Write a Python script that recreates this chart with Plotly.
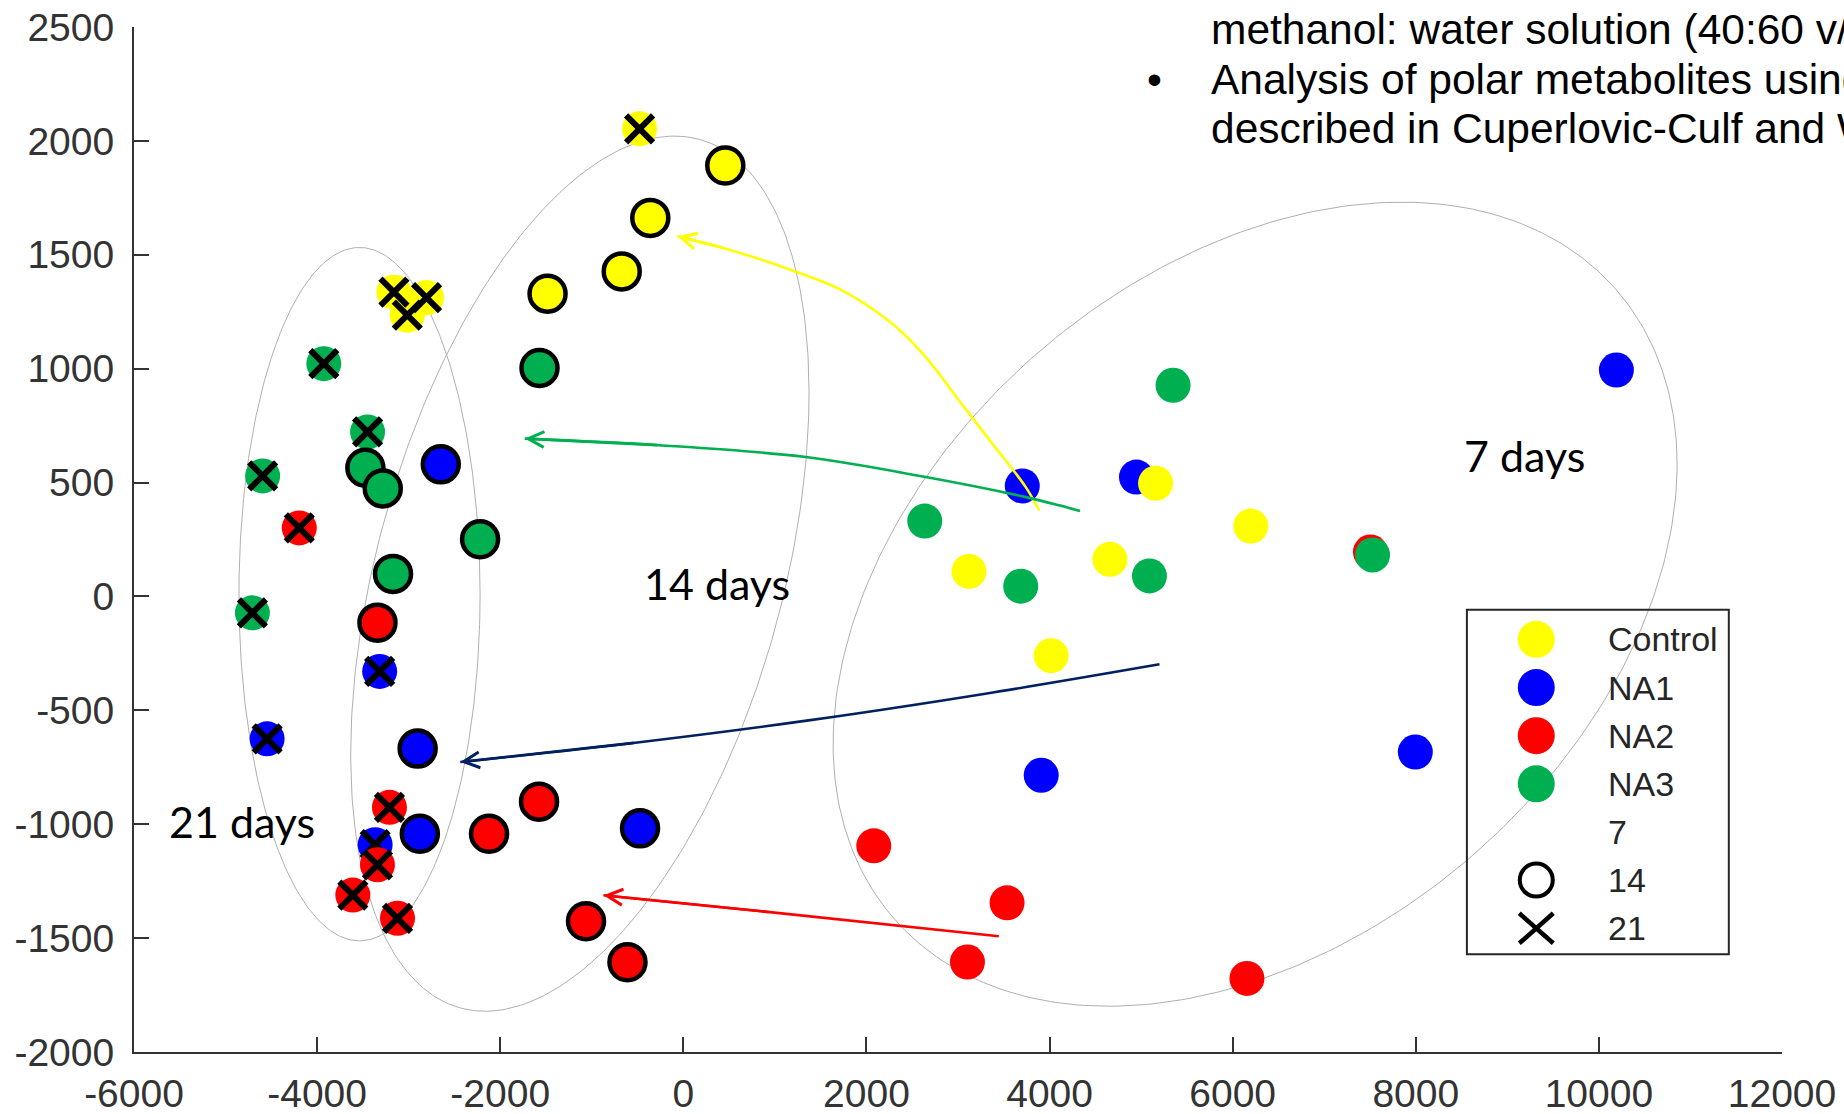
import numpy as np
import plotly.graph_objects as go

# ---------------- data ----------------
group_names = ["NA1", "NA2", "Control", "NA3"]          # drawing order
group_colors = {"Control": "#FFFF00", "NA1": "#0000FF", "NA2": "#FF0000", "NA3": "#00B050"}

control_d7_x = [5158, 6198, 4659, 3120, 4017]
control_d7_y = [497, 309, 163, 110, -260]
control_d14_x = [458, -361, -673, -1483]
control_d14_y = [1892, 1662, 1427, 1329]
control_d21_x = [-478, -3161, -2805, -3015]
control_d21_y = [2053, 1336, 1312, 1235]

na1_d7_x = [10191, 3702, 4949, 7995, 3909]
na1_d7_y = [994, 485, 524, -683, -785]
na1_d14_x = [-2649, -2902, -2878, -473]
na1_d14_y = [580, -668, -1042, -1018]
na1_d21_x = [-3317, -4546, -3366]
na1_d21_y = [-329, -625, -1090]

na2_d7_x = [7505, 2080, 3536, 3103, 6156]
na2_d7_y = [195, -1095, -1345, -1605, -1677]
na2_d14_x = [-3341, -1576, -2122, -1063, -610]
na2_d14_y = [-115, -901, -1042, -1426, -1606]
na2_d21_x = [-4195, -3210, -3341, -3610, -3122]
na2_d21_y = [301, -926, -1178, -1311, -1413]

na3_d7_x = [5349, 2637, 7528, 3685, 5091]
na3_d7_y = [927, 331, 182, 45, 90]
na3_d14_x = [-1571, -3473, -3283, -2220, -3171]
na3_d14_y = [1003, 565, 474, 251, 99]
na3_d21_x = [-3927, -3449, -4595, -4707]
na3_d21_y = [1022, 722, 529, -72]

data = {
    "Control": {7: (control_d7_x, control_d7_y), 14: (control_d14_x, control_d14_y), 21: (control_d21_x, control_d21_y)},
    "NA1": {7: (na1_d7_x, na1_d7_y), 14: (na1_d14_x, na1_d14_y), 21: (na1_d21_x, na1_d21_y)},
    "NA2": {7: (na2_d7_x, na2_d7_y), 14: (na2_d14_x, na2_d14_y), 21: (na2_d21_x, na2_d21_y)},
    "NA3": {7: (na3_d7_x, na3_d7_y), 14: (na3_d14_x, na3_d14_y), 21: (na3_d21_x, na3_d21_y)},
}

# grouping ellipses: centre, x half-extent, y half-extent, phase (tilt)
ellipse_cx = [-3537, -1130, 6245]
ellipse_cy = [10, 100, -34]
ellipse_w = [1317, 2503, 4609]
ellipse_h = [1522, 1921, 1765]
ellipse_phase_deg = [90, 65.6, 69.7]

# arrows (tail ... tip)
arrow_yellow_x = [3887, 3740, 3375, 3011, 2648, 2283, 1737, 1191, 463, -66]
arrow_yellow_y = [377, 480, 671, 860, 1051, 1197, 1343, 1431, 1527, 1581]
arrow_green_x = [4333, 4104, 3740, 2648, 1337, -265, -1732]
arrow_green_y = [375, 400, 436, 524, 612, 664, 693]
arrow_navy_x = [5201, 3299, 1387, -524, -2436]
arrow_navy_y = [-298, -427, -543, -642, -727]
arrow_red_x = [3446, 944, -873]
arrow_red_y = [-1492, -1386, -1312]
arrows = [
    (arrow_yellow_x, arrow_yellow_y, "#FFFF00"),
    (arrow_green_x, arrow_green_y, "#00B050"),
    (arrow_navy_x, arrow_navy_y, "#002060"),
    (arrow_red_x, arrow_red_y, "#FF0000"),
]

day_labels = ["7 days", "14 days", "21 days"]
day_label_x = [9183, 365, -4817]
day_label_y = [620, 56, -990]

x_ticks = [-6000, -4000, -2000, 0, 2000, 4000, 6000, 8000, 10000, 12000]
y_ticks = [-2000, -1500, -1000, -500, 0, 500, 1000, 1500, 2000, 2500]

legend_labels = ["Control", "NA1", "NA2", "NA3", "7", "14", "21"]

slide_lines = [
    "methanol: water solution (40:60 v/v)",
    "Analysis of polar metabolites using NMR",
    "described in Cuperlovic-Culf and Wang",
]

# ---------------- figure ----------------
AX_FONT = "Liberation Sans, Arial, sans-serif"
TXT = "#333333"

fig = go.Figure()

# ellipses
for cx, cy, w, h, ph in zip(ellipse_cx, ellipse_cy, ellipse_w, ellipse_h, ellipse_phase_deg):
    t = np.linspace(0, 2 * np.pi, 361)
    fig.add_trace(go.Scatter(
        x=cx + w * np.cos(t), y=cy + h * np.cos(t - np.radians(ph)),
        mode="lines", line=dict(color="#AFAFAF", width=1),
        hoverinfo="skip", showlegend=False))

CIRCLE = 35

# day 7: plain filled circles
for g in group_names:
    x, y = data[g][7]
    fig.add_trace(go.Scatter(x=x, y=y, mode="markers", name=f"{g} 7",
                             marker=dict(symbol="circle", size=CIRCLE, color=group_colors[g],
                                         line=dict(width=0)),
                             showlegend=False))

# day 21: filled circles with black X
for g in group_names:
    x, y = data[g][21]
    fig.add_trace(go.Scatter(x=x, y=y, mode="markers", name=f"{g} 21",
                             marker=dict(symbol="circle", size=CIRCLE, color=group_colors[g],
                                         line=dict(width=0)),
                             showlegend=False))
    fig.add_trace(go.Scatter(x=x, y=y, mode="markers", name=f"{g} 21 x",
                             marker=dict(symbol="x-thin", size=27,
                                         line=dict(width=6, color="black")),
                             showlegend=False))

# day 14: filled circles with black outline
for g in group_names:
    x, y = data[g][14]
    fig.add_trace(go.Scatter(x=x, y=y, mode="markers", name=f"{g} 14",
                             marker=dict(symbol="circle", size=36, color=group_colors[g],
                                         line=dict(width=4.5, color="black")),
                             showlegend=False))

# arrows (curves)
annotations = []
for ax_, ay_, col in arrows:
    fig.add_trace(go.Scatter(x=ax_, y=ay_, mode="lines",
                             line=dict(color=col, width=2.6, shape="spline", smoothing=1.0),
                             hoverinfo="skip", showlegend=False))
    annotations.append(dict(x=ax_[-1], y=ay_[-1], ax=ax_[-2], ay=ay_[-2],
                            xref="x", yref="y", axref="x", ayref="y",
                            text="", showarrow=True, arrowhead=5, arrowsize=1.2,
                            arrowwidth=2.6, arrowcolor=col, standoff=0))

# day labels
for lab, lx, ly in zip(day_labels, day_label_x, day_label_y):
    annotations.append(dict(x=lx, y=ly, xref="x", yref="y", text=lab, showarrow=False,
                            xanchor="center", yanchor="middle",
                            font=dict(family="Lato, Carlito, sans-serif", size=43, color="black")))

# ---- pixel -> paper helpers for layout decorations ----
L, R, T, B = 134.0, 1782.5, 26.6, 1051.7
def px_x(p):
    return (p - L) / (R - L)
def px_y(p):
    return (B - p) / (B - T)

# slide text at top right (cropped by the page edge, as in the reference)
slide_y = [29.5, 79.0, 128.0]
for line, py in zip(slide_lines, slide_y):
    annotations.append(dict(x=px_x(1209.7), y=px_y(py), xref="paper", yref="paper",
                            text=line, showarrow=False, xanchor="left", yanchor="middle",
                            font=dict(family=AX_FONT, size=42.5, color="black")))
annotations.append(dict(x=px_x(1155), y=px_y(79.0), xref="paper", yref="paper",
                        text="•", showarrow=False, xanchor="center", yanchor="middle",
                        font=dict(family=AX_FONT, size=42.5, color="black")))

# legend (drawn by hand so the symbols keep their size)
shapes = []
shapes.append(dict(type="rect", xref="paper", yref="paper",
                   x0=px_x(1467.3), x1=px_x(1729.3), y0=px_y(954), y1=px_y(609.3),
                   line=dict(color="#262626", width=2), fillcolor="rgba(0,0,0,0)", layer="above"))
row_y = [639, 687.2, 735.3, 783.5, 831.7, 879.8, 928]
mx = 1536.7
legend_colors = [group_colors["Control"], group_colors["NA1"], group_colors["NA2"], group_colors["NA3"]]
for i, lab in enumerate(legend_labels):
    yy = px_y(row_y[i])
    if i < 4:
        shapes.append(dict(type="circle", xref="paper", yref="paper",
                           xsizemode="pixel", ysizemode="pixel",
                           xanchor=px_x(mx), yanchor=yy, x0=-18.5, x1=18.5, y0=-18.5, y1=18.5,
                           fillcolor=legend_colors[i], line=dict(width=0), layer="above"))
    elif lab == "14":
        shapes.append(dict(type="circle", xref="paper", yref="paper",
                           xsizemode="pixel", ysizemode="pixel",
                           xanchor=px_x(mx), yanchor=yy, x0=-16.5, x1=16.5, y0=-16.5, y1=16.5,
                           fillcolor="rgba(0,0,0,0)", line=dict(width=4, color="black"), layer="above"))
    elif lab == "21":
        for s in (1, -1):
            shapes.append(dict(type="line", xref="paper", yref="paper",
                               xsizemode="pixel", ysizemode="pixel",
                               xanchor=px_x(mx), yanchor=yy, x0=-17, x1=17, y0=-15 * s, y1=15 * s,
                               line=dict(width=4.5, color="black"), layer="above"))
    annotations.append(dict(x=px_x(1606), y=yy, xref="paper", yref="paper", text=lab,
                            showarrow=False, xanchor="left", yanchor="middle",
                            font=dict(family=AX_FONT, size=34, color="#262626")))

axis_common = dict(showline=True, linecolor="#333333", linewidth=2, ticks="inside",
                   ticklen=15, tickwidth=2, tickcolor="#333333", showgrid=False,
                   zeroline=False, mirror=False,
                   tickfont=dict(family=AX_FONT, size=39, color=TXT))

fig.update_layout(
    width=1844, height=1114,
    margin=dict(l=L, r=1844 - R, t=T, b=1114 - B, autoexpand=False),
    plot_bgcolor="white", paper_bgcolor="white",
    showlegend=False,
    xaxis=dict(range=[-6000, 12000], tickvals=x_ticks, ticktext=[str(v) for v in x_ticks],
               ticklabelstandoff=6, **axis_common),
    yaxis=dict(range=[-2000, 2500], tickvals=y_ticks, ticktext=[str(v) for v in y_ticks],
               ticklabelstandoff=10, **axis_common),
    annotations=annotations,
    shapes=shapes,
)

fig.write_html("out.html")
